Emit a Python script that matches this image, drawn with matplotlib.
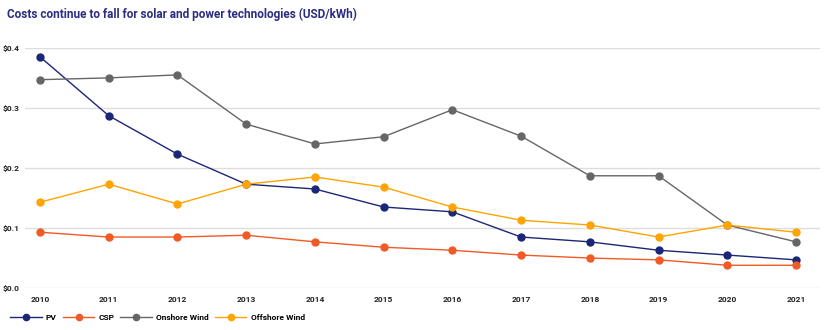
import matplotlib.pyplot as plt
import numpy as np

years = [2010, 2011, 2012, 2013, 2014, 2015, 2016, 2017, 2018, 2019, 2020, 2021]
pv = [0.385, 0.287, 0.223, 0.173, 0.165, 0.135, 0.127, 0.085, 0.077, 0.063, 0.055, 0.047]
csp = [0.093, 0.085, 0.085, 0.088, 0.077, 0.068, 0.063, 0.055, 0.050, 0.047, 0.038, 0.038]
onshore = [0.347, 0.350, 0.355, 0.273, 0.240, 0.252, 0.297, 0.253, 0.187, 0.187, 0.105, 0.077]
offshore = [0.143, 0.173, 0.140, 0.173, 0.185, 0.168, 0.135, 0.113, 0.105, 0.085, 0.105, 0.093]
y_ticks = [0.0, 0.1, 0.2, 0.3, 0.4]

plt.rcParams['font.family'] = ['Roboto', 'DejaVu Sans']

fig = plt.figure(figsize=(8.3, 3.3), dpi=100)
ax = fig.add_axes([0.030, 0.127, 0.958, 0.728])

series = [("PV", pv, "#1c2676"), ("CSP", csp, "#f15a24"),
          ("Onshore Wind", onshore, "#666666"), ("Offshore Wind", offshore, "#ffa400")]
for name, vals, col in series:
    ax.plot(years, vals, color=col, lw=1, marker='o', markersize=5, label=name)

ax.set_xlim(2009.78, 2021.35)
ax.set_ylim(0, 0.4)
ax.set_yticks(y_ticks)
ax.set_yticklabels(["$%.1f" % v for v in y_ticks], fontsize=6, fontweight='bold', color='#222222')
ax.set_xticks(years)
ax.set_xticklabels([str(y) for y in years], fontsize=6, fontweight='bold', color='#222222')
ax.tick_params(length=0, pad=6)
ax.tick_params(axis='y', pad=4)
ax.grid(axis='y', color='#dddddd', lw=1)
ax.set_axisbelow(True)
for s in ax.spines.values():
    s.set_visible(False)

fig.text(0.009, 0.955, "Costs continue to fall for solar and power technologies (USD/kWh)",
         fontsize=8.5, fontweight='bold', color='#2b2d82', va='center')

ax.legend(loc='upper left', bbox_to_anchor=(-0.028, -0.075), ncol=4, frameon=False,
          handlelength=3.8, columnspacing=0.7, handletextpad=0.5, markerscale=0.9,
          prop={'weight': 'bold', 'size': 6})

plt.savefig("out.png", dpi=100)
